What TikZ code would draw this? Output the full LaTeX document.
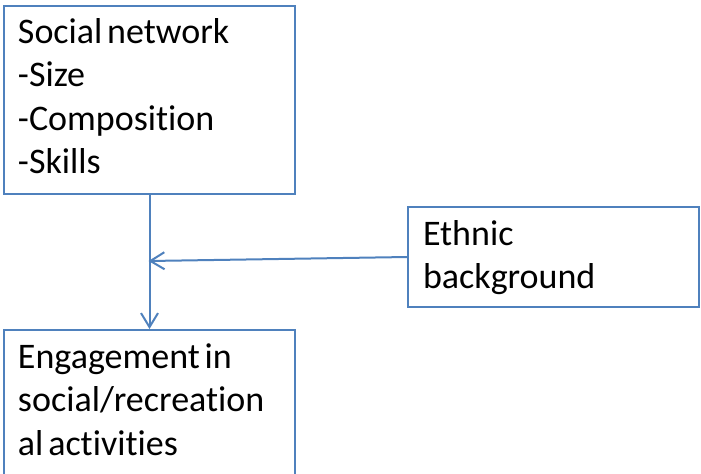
\documentclass[tikz,border=0pt]{standalone}
\usepackage{fontspec}
\setmainfont{Carlito}[Ligatures=NoCommon]
\usetikzlibrary{arrows.meta, positioning}
\definecolor{boxblue}{RGB}{79,129,189}

\begin{document}
\begin{tikzpicture}[x=0.5pt, y=-0.5pt, line width=1pt,
    >={Straight Barb[length=7pt, width=8.5pt]}]

    % Styles
    \tikzset{
        box/.style={draw=boxblue, rectangle, inner sep=0pt, anchor=north west,
            minimum width=145.5pt},
        txt/.style={inner sep=0pt, anchor=base west, text width=140pt,
            align=left, font=\fontsize{18}{21.75}\selectfont,
            execute at begin node={\spaceskip=2.4pt plus 1pt\relax}},
        link/.style={->, draw=boxblue}
    }

    % Page frame
    \useasboundingbox (0,0) rectangle (701,473);
    \clip (0,0) rectangle (701,473);

    % Boxes
    \node[box, minimum height=94pt]  (net) at (3,5)   {};
    \node[box, minimum height=50pt]  (eth) at (407,206) {};
    \node[box, minimum height=120pt] (eng) at (3,329) {};

    % Box texts
    \node[txt] (netTxt) at (17,43)  {Social network\\-Size\\-Composition\\-Skills};
    \node[txt] (ethTxt) at (422,245) {Ethnic\\background};
    \node[txt] (engTxt) at (17,368) {Engagement in\\social/recreation\\al activities};

    % Where the side arrow meets the main line
    \coordinate (join) at (148.5,261);

    % Arrows
    \draw[link] (net.south) -- (eng.north);
    \draw[link] (eth.west) -- (join);

\end{tikzpicture}
\end{document}
